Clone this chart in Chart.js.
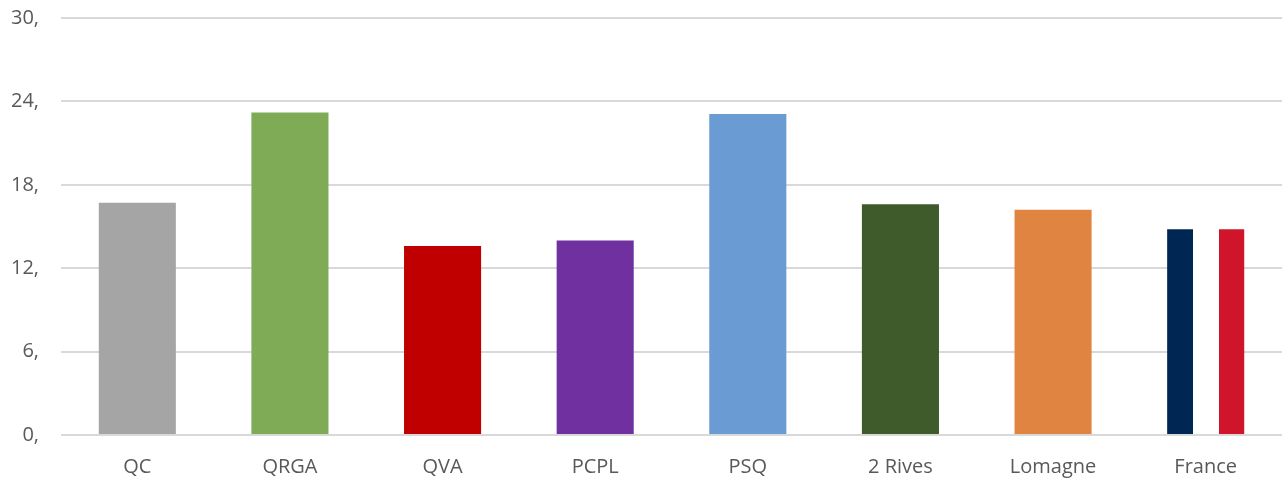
<!DOCTYPE html>
<html>
<head>
<meta charset="utf-8">
<script src="https://cdn.jsdelivr.net/npm/chart.js@4"></script>
<style>
html,body{margin:0;padding:0;background:#fff;}
#wrap{width:1282px;height:479px;position:relative;}
</style>
</head>
<body>
<div id="wrap"><canvas id="c" width="1282" height="479"></canvas></div>
<script>
const categories = ["QC", "QRGA", "QVA", "PCPL", "PSQ", "2 Rives", "Lomagne", "France"];
const values = [16.7, 23.2, 13.6, 14.0, 23.1, 16.6, 16.2, 14.8];
const barColors = ["#a5a5a5", "#7fab56", "#c00000", "#7030a0", "#6b9bd3", "#3f5a2b", "#e08442", null];
const yTicks = [0, 6, 12, 18, 24, 30];

const BAR_PCT = 0.505;

function franceFill(ctx) {
  const chart = ctx.chart;
  const xs = chart.scales && chart.scales.x;
  if (!xs || xs.width === undefined) return "#002654";
  const center = xs.getPixelForValue(ctx.dataIndex);
  const catW = xs.width / categories.length;
  const half = catW * BAR_PCT / 2;
  const g = chart.ctx.createLinearGradient(center - half, 0, center + half, 0);
  g.addColorStop(0, "#002654");
  g.addColorStop(1/3, "#002654");
  g.addColorStop(1/3, "#ffffff");
  g.addColorStop(2/3, "#ffffff");
  g.addColorStop(2/3, "#d0142a");
  g.addColorStop(1, "#d0142a");
  return g;
}

new Chart(document.getElementById("c"), {
  type: "bar",
  data: {
    labels: categories,
    datasets: [{
      data: values,
      backgroundColor: (ctx) => barColors[ctx.dataIndex] || franceFill(ctx),
      borderWidth: 0,
      categoryPercentage: 1,
      barPercentage: BAR_PCT
    }]
  },
  options: {
    responsive: false,
    animation: false,
    layout: { padding: { top: 18, right: 0, left: 0, bottom: 0 } },
    plugins: { legend: { display: false }, tooltip: { enabled: false } },
    scales: {
      x: {
        grid: { display: false },
        border: { display: false },
        afterFit: (s) => { s.height = 44; s.paddingLeft = 0; s.paddingRight = 0; },
        ticks: { color: "#595959", font: { family: "Open Sans", size: 20 }, padding: 12, maxRotation: 0 }
      },
      y: {
        min: 0, max: 30,
        afterBuildTicks: (s) => { s.ticks = yTicks.map(v => ({ value: v })); },
        afterFit: (s) => { s.width = 61; s.paddingTop = 0; s.paddingBottom = 0; },
        grid: { color: "#d9d9d9", lineWidth: 2, drawTicks: false },
        border: { display: false },
        ticks: { color: "#595959", font: { family: "Open Sans", size: 20 }, padding: 22,
          callback: (v) => v + "," }
      }
    }
  }
});
</script>
</body>
</html>
